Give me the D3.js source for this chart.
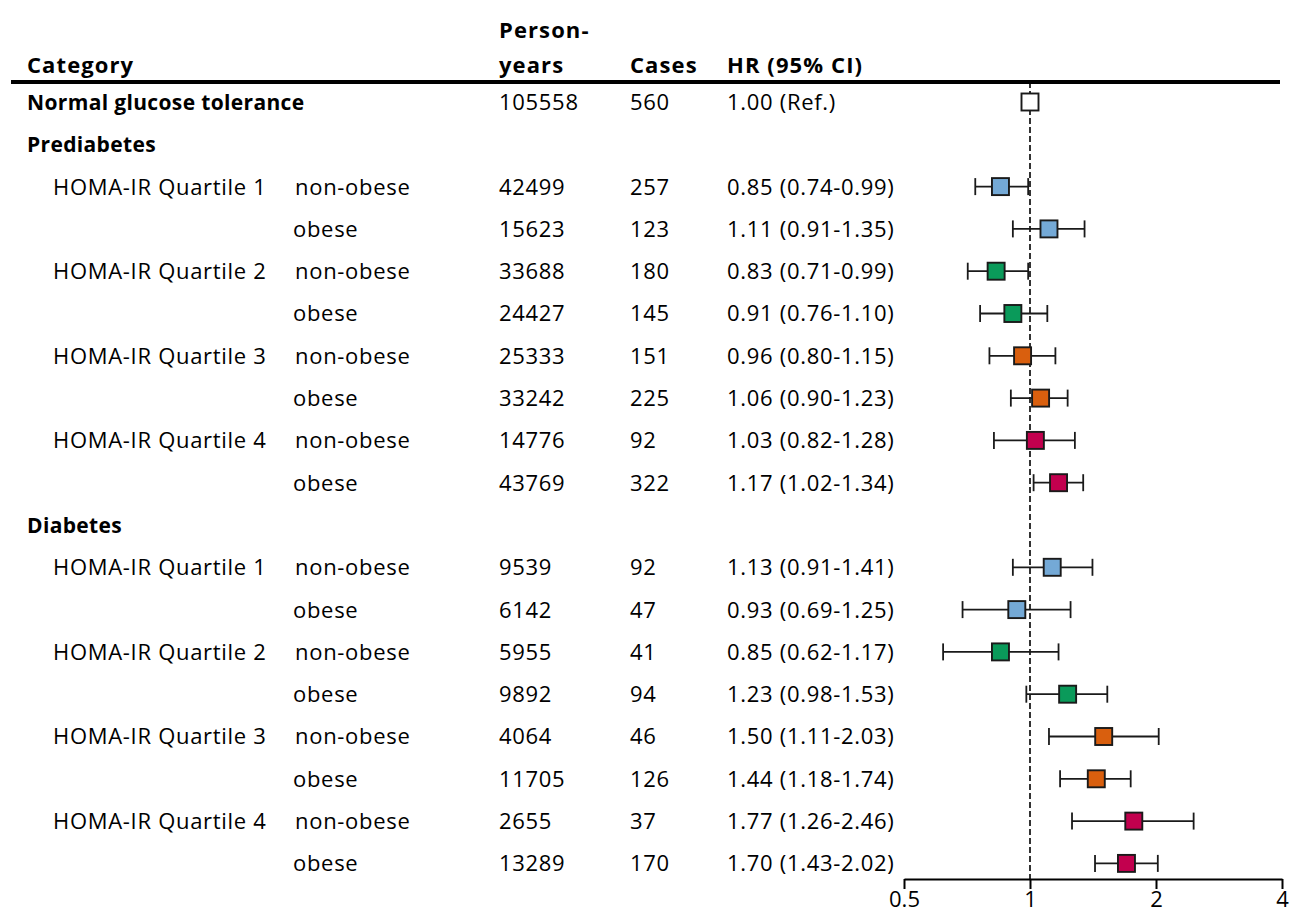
<!DOCTYPE html>
<html>
<head>
<meta charset="utf-8">
<script src="https://cdn.jsdelivr.net/npm/d3@7"></script>
<style>
  body { margin: 0; background: #fff; }
  text { font-family: 'Open Sans', 'Noto Sans', sans-serif; fill: #000; }
</style>
</head>
<body>
<div id="chart"></div>
<script>
const headings = ['Normal glucose tolerance', 'Prediabetes', 'Diabetes'];
const quartiles = ['HOMA-IR Quartile 1', 'HOMA-IR Quartile 2', 'HOMA-IR Quartile 3', 'HOMA-IR Quartile 4'];
const obesity = ['non-obese', 'obese'];
const personYears = [105558, 42499, 15623, 33688, 24427, 25333, 33242, 14776, 43769,
  9539, 6142, 5955, 9892, 4064, 11705, 2655, 13289];
const cases = [560, 257, 123, 180, 145, 151, 225, 92, 322, 92, 47, 41, 94, 46, 126, 37, 170];
const hr = [1.00, 0.85, 1.11, 0.83, 0.91, 0.96, 1.06, 1.03, 1.17,
  1.13, 0.93, 0.85, 1.23, 1.50, 1.44, 1.77, 1.70];
const ciLow = [null, 0.74, 0.91, 0.71, 0.76, 0.80, 0.90, 0.82, 1.02,
  0.91, 0.69, 0.62, 0.98, 1.11, 1.18, 1.26, 1.43];
const ciHigh = [null, 0.99, 1.35, 0.99, 1.10, 1.15, 1.23, 1.28, 1.34,
  1.41, 1.25, 1.17, 1.53, 2.03, 1.74, 2.46, 2.02];
const xTicks = [0.5, 1, 2, 4];
const quartileColors = ['#74a9d6', '#0a9a5a', '#d95f0e', '#c2004e'];

// build table rows: headings without data, then quartile x obesity rows
const rows = [];
let k = 0;
rows.push({ heading: headings[0], i: k++, q: -1 });
[headings[1], headings[2]].forEach(h => {
  rows.push({ heading: h, i: -1 });
  quartiles.forEach((q, qi) => {
    obesity.forEach((o, oi) => {
      rows.push({ quart: oi === 0 ? q : null, ob: o, i: k++, q: qi });
    });
  });
});

const width = 1291, height = 914;
const svg = d3.select('#chart').append('svg')
  .attr('width', width)
  .attr('height', height);

const y = d3.scaleLinear().domain([0, rows.length - 1]).range([102, 863.4]);
const x = d3.scaleLog().base(2).domain([0.5, 4]).range([904, 1282]);
const axisY = 879;

const col = { cat: 27, quart: 53, ob: 294, py: 499, cases: 630, hr: 727 };

// header
const head = svg.append('g')
  .attr('font-size', 22)
  .attr('font-weight', 'bold')
  .attr('letter-spacing', 1.1);
head.append('text').attr('x', col.cat).attr('y', 73).text('Category');
head.append('text').attr('x', col.py).attr('y', 38).text('Person-');
head.append('text').attr('x', col.py).attr('y', 73).text('years');
head.append('text').attr('x', col.cases).attr('y', 73).text('Cases');
head.append('text').attr('x', col.hr).attr('y', 73).text('HR (95% CI)');

// dashed reference line
svg.append('line')
  .attr('x1', x(1)).attr('x2', x(1))
  .attr('y1', 82).attr('y2', axisY)
  .attr('stroke', '#000')
  .attr('stroke-width', 1.6)
  .attr('stroke-dasharray', '6,3');

svg.append('line')
  .attr('x1', 11).attr('x2', 1280)
  .attr('y1', 82).attr('y2', 82)
  .attr('stroke', '#000')
  .attr('stroke-width', 4);

const rowG = svg.append('g')
  .attr('font-size', 22)
  .attr('letter-spacing', 0.7)
  .selectAll('g')
  .data(rows)
  .join('g')
  .attr('transform', (d, j) => `translate(0,${y(j)})`);

rowG.filter(d => d.heading)
  .append('text')
  .attr('x', col.cat).attr('dy', '0.36em')
  .attr('font-weight', 'bold')
  .attr('font-size', 21)
  .attr('letter-spacing', 0.35)
  .text(d => d.heading);

rowG.filter(d => d.quart)
  .append('text')
  .attr('x', col.quart).attr('dy', '0.36em')
  .text(d => d.quart);

rowG.filter(d => d.ob)
  .append('text')
  .attr('x', d => d.ob === 'obese' ? col.ob - 1 : col.ob + 1).attr('dy', '0.36em')
  .text(d => d.ob);

const dataRows = rowG.filter(d => d.i >= 0);

dataRows.append('text')
  .attr('x', col.py).attr('dy', '0.36em')
  .text(d => personYears[d.i]);

dataRows.append('text')
  .attr('x', col.cases).attr('dy', '0.36em')
  .text(d => cases[d.i]);

dataRows.append('text')
  .attr('x', col.hr).attr('dy', '0.36em')
  .text(d => ciLow[d.i] == null
    ? `${hr[d.i].toFixed(2)} (Ref.)`
    : `${hr[d.i].toFixed(2)} (${ciLow[d.i].toFixed(2)}-${ciHigh[d.i].toFixed(2)})`);

// confidence intervals
const ciRows = dataRows.filter(d => ciLow[d.i] != null);
const cap = 8.5;
ciRows.append('line')
  .attr('x1', d => x(ciLow[d.i])).attr('x2', d => x(ciHigh[d.i]))
  .attr('stroke', '#1a1a1a').attr('stroke-width', 1.8);
ciRows.append('line')
  .attr('x1', d => x(ciLow[d.i])).attr('x2', d => x(ciLow[d.i]))
  .attr('y1', -cap).attr('y2', cap)
  .attr('stroke', '#1a1a1a').attr('stroke-width', 1.8);
ciRows.append('line')
  .attr('x1', d => x(ciHigh[d.i])).attr('x2', d => x(ciHigh[d.i]))
  .attr('y1', -cap).attr('y2', cap)
  .attr('stroke', '#1a1a1a').attr('stroke-width', 1.8);

const box = 17;
dataRows.append('rect')
  .attr('x', d => x(hr[d.i]) - box / 2)
  .attr('y', -box / 2)
  .attr('width', box).attr('height', box)
  .attr('fill', d => d.q < 0 ? '#fff' : quartileColors[d.q])
  .attr('stroke', '#1a1a1a')
  .attr('stroke-width', 1.9);

// x axis
const axis = svg.append('g')
  .attr('transform', `translate(0,${axisY})`)
  .call(d3.axisBottom(x).tickValues(xTicks).tickFormat(d => d).tickSize(10).tickSizeOuter(0));
axis.select('.domain').attr('stroke', '#000').attr('stroke-width', 2);
axis.selectAll('.tick line').attr('stroke', '#000').attr('stroke-width', 2);
axis.selectAll('.tick text')
  .attr('font-family', "'Liberation Sans', Arial, sans-serif")
  .attr('font-size', 22)
  .attr('dy', null)
  .attr('y', 28);
</script>
</body>
</html>
